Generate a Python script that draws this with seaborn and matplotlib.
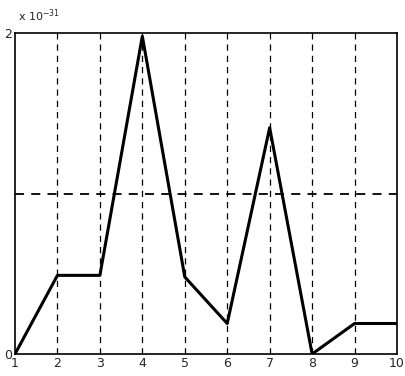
import matplotlib
matplotlib.use("Agg")
import matplotlib.pyplot as plt
import seaborn as sns
import pandas as pd

# data (values in units of 1e-31)
steps = [1, 2, 3, 4, 5, 6, 7, 8, 9, 10]
values = [0.0, 0.49, 0.49, 1.98, 0.48, 0.19, 1.41, 0.0, 0.19, 0.19]
threshold = 1.0
vlines = [2, 3, 4, 5, 6, 7, 8, 9]

sns.set_style("white")
plt.rcParams['font.family'] = ['DejaVu Sans']

df = pd.DataFrame({'step': steps, 'value': values})

fig = plt.figure(figsize=(4.05, 3.76), dpi=100)
ax = fig.add_axes([15 / 405, 22 / 376, 382 / 405, 321 / 376])

sns.lineplot(x='step', y='value', data=df, ax=ax, color='black', linewidth=2.2)

for v in vlines:
    ax.axvline(v, color='black', linestyle=(0, (5, 4)), linewidth=0.9)
ax.axhline(threshold, color='black', linestyle=(0, (5, 4)), linewidth=1.3)

ax.set_xlim(1, 10)
ax.set_ylim(0, 2)
ax.set_xticks(steps)
ax.set_xticklabels([str(s) for s in steps], fontsize=9)
ax.set_yticks([0, 2])
ax.set_yticklabels(['0', '2'], fontsize=9)
ax.tick_params(length=0, pad=2)
ax.set_xlabel('')
ax.set_ylabel('')
for sp in ax.spines.values():
    sp.set_color('black')
    sp.set_linewidth(1.2)

fig.text(18 / 405, 1 - 16 / 376, r'x $10^{-31}$', fontsize=8, ha='left', va='center')

fig.savefig('out.png', dpi=100)
